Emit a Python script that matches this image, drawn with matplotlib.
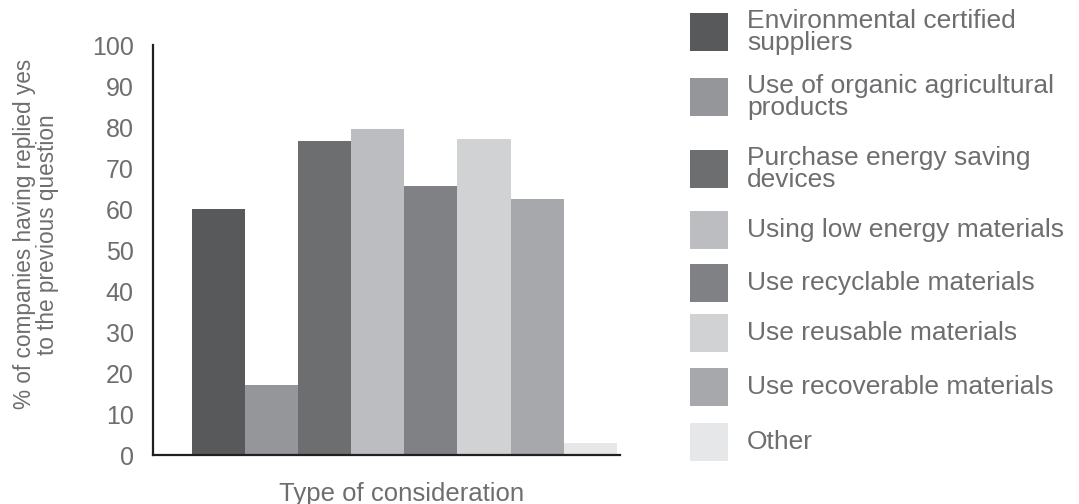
import matplotlib.pyplot as plt
from matplotlib.patches import Rectangle

# survey answers, one bar per type of consideration
categories = [
    "Environmental certified\nsuppliers",
    "Use of organic agricultural\nproducts",
    "Purchase energy saving\ndevices",
    "Using low energy materials",
    "Use recyclable materials",
    "Use reusable materials",
    "Use recoverable materials",
    "Other",
]
values = [60, 17, 76.5, 79.5, 65.5, 77, 62.5, 3]
colors = ["#58595b", "#959699", "#6d6e70", "#bcbdc0",
          "#808184", "#d1d2d4", "#a7a8ab", "#e6e7e8"]
yticks = list(range(0, 101, 10))

text_color = "#6d6e70"
plt.rcParams['font.family'] = ['Liberation Sans', 'DejaVu Sans']

W, H = 1079, 504
fig = plt.figure(figsize=(W / 100, H / 100), dpi=100)
ax = fig.add_axes([0.1418, 0.0972, 0.4328, 0.8135])

for i, (name, v, c) in enumerate(zip(categories, values, colors)):
    ax.bar(i, v, width=1.0, color=c, label=name, linewidth=0)

ax.set_xlim(-1.234, 7.56)
ax.set_ylim(0, 100)
ax.set_xticks([])
ax.set_yticks(yticks)
ax.tick_params(axis='y', length=0, pad=14, labelsize=18, labelcolor=text_color)
for s in ('top', 'right'):
    ax.spines[s].set_visible(False)
for s in ('left', 'bottom'):
    ax.spines[s].set_color("#231f20")
    ax.spines[s].set_linewidth(1.6)

ax.set_xlabel("Type of consideration", fontsize=18.5, color=text_color)
ax.xaxis.set_label_coords(0.533, -0.065, transform=ax.transAxes)
ax.xaxis.label.set_va('top')
fig.text(0.033, 0.535, "% of companies having replied yes\nto the previous question",
         rotation=90, ha='center', va='center', fontsize=16.3, color=text_color,
         linespacing=1.0)

# legend laid out by hand: two-line entries get a bit more room
row_centers = [32, 97, 169, 230, 283, 333, 387, 442]  # px from top
box = 38
box_x, text_x = 690, 747
for name, c, yc in zip(categories, colors, row_centers):
    fig.add_artist(Rectangle((box_x / W, 1 - (yc + box / 2) / H), box / W, box / H,
                             transform=fig.transFigure, facecolor=c, linewidth=0))
    fig.text(text_x / W, 1 - yc / H, name, ha='left', va='center', fontsize=19,
             color=text_color, linespacing=0.85)

fig.savefig("out.png", dpi=100)
